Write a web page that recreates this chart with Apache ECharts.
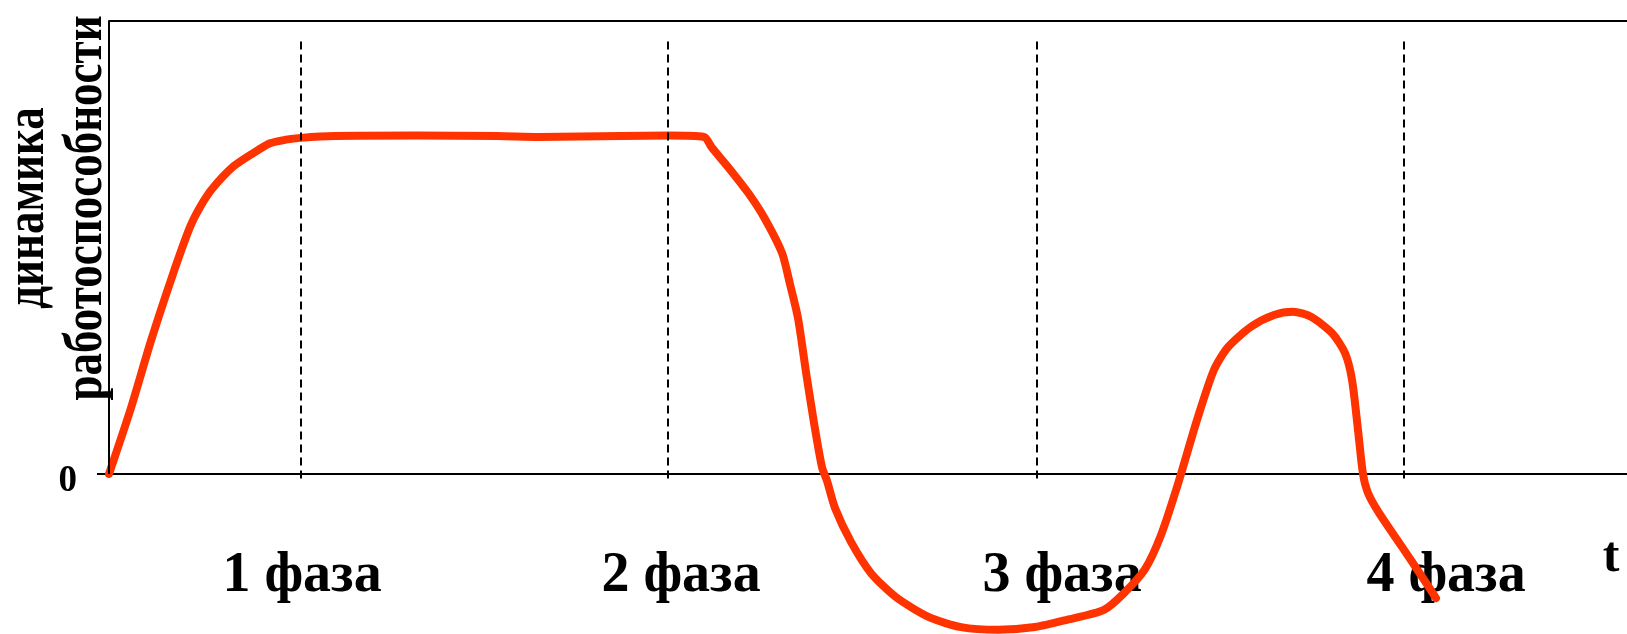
<!DOCTYPE html>
<html>
<head>
<meta charset="utf-8">
<script src="https://cdn.jsdelivr.net/npm/echarts@6/dist/echarts.min.js"></script>
<style>
    html, body { margin: 0; padding: 0; background: #fff; }
    #chart { width: 1627px; height: 634px; }
</style>
</head>
<body>
<div id="chart"></div>
<script>
    // curve: t (time units), y (performance, 0 = baseline)
    const curveT = [0, 2.2, 4.2, 6.3, 8.1, 9.1, 10.3, 12.4, 14.4, 16.1, 17.7, 19.2, 22.6, 30.8, 38.9, 43.0, 51.2, 56.0, 59.5,
        60.3, 62.0, 64.0, 65.6, 67.3, 68.1, 68.9, 69.7, 70.5, 71.3, 71.8, 72.6, 74.2, 76.2, 78.7, 82.0, 85.2, 88.9,
        92.6, 95.8, 99.5, 101.5, 103.6, 105.2, 106.9, 108.8, 110.5, 111.9, 114.2, 116.5, 118.4, 120.2, 122.3,
        123.6, 124.3, 124.9, 125.4, 125.9, 127.0, 129.3, 131.3, 132.7]
    const curveY = [0, 14.6, 29.4, 43.5, 54.5, 58.9, 62.9, 67.8, 70.8, 73.0, 73.8, 74.2, 74.6, 74.7, 74.6, 74.4, 74.6, 74.7, 74.4,
        72.0, 67.5, 61.8, 56.3, 48.8, 41.9, 34.4, 22.5, 11.3, 1.5, -1.5, -7.5, -15.0, -21.9, -27.2, -31.6, -33.8, -34.4,
        -33.8, -32.2, -30.0, -26.3, -21.0, -13.5, -2.2, 11.9, 23.0, 28.0, 32.5, 35.1, 35.8, 34.7, 31.1,
        26.7, 20.8, 9.7, 0, -4.2, -8.6, -16.1, -22.7, -27.4]

    // phase boundaries (dashed lines) and phase captions
    const phaseBounds = [19.2, 55.9, 92.8, 129.5]
    const phaseLabelT = [19.3, 57.2, 95.3, 133.7]
    const phaseLabels = ['1 фаза', '2 фаза', '3 фаза', '4 фаза']
    const yTicks = [0]

    const tMax = 151.8
    const yMin = -35
    const yMax = 100
    const dashTop = 95.5
    const dashBottom = -2
    const serif = '"Liberation Serif", "Times New Roman", serif'

    const chart = echarts.init(document.getElementById('chart'))

    let curveData = curveT.map((t, i) => [t, curveY[i]])

    let boundLines = phaseBounds.map(t => [
        { coord: [t, dashTop] },
        { coord: [t, dashBottom] }
    ])

    let option = {
        animation: false,
        grid: {
            left: 109,
            right: 0,
            top: 21,
            bottom: 1.5,
            outerBoundsMode: 'none',
            containLabel: false
        },
        xAxis: [{
            type: 'value',
            min: 0,
            max: tMax,
            axisLine: {
                onZero: true,
                lineStyle: { color: '#000', width: 2 }
            },
            axisTick: { show: false },
            splitLine: { show: false },
            axisLabel: {
                customValues: phaseLabelT,
                // labels hang from the grid bottom, pull them back up
                margin: -84,
                color: '#000',
                fontFamily: serif,
                fontWeight: 'bold',
                fontSize: 56,
                formatter: v => {
                    let i = phaseLabelT.indexOf(v)
                    return i >= 0 ? phaseLabels[i] : ''
                }
            }
        }, {
            // top border of the plot
            type: 'value',
            position: 'top',
            min: 0,
            max: tMax,
            axisLine: {
                show: true,
                onZero: false,
                lineStyle: { color: '#000', width: 2 }
            },
            axisTick: { show: false },
            axisLabel: { show: false },
            splitLine: { show: false }
        }],
        yAxis: {
            type: 'value',
            min: yMin,
            max: yMax,
            axisLine: { show: false },
            splitLine: { show: false },
            axisTick: {
                show: true,
                customValues: yTicks,
                length: 12,
                lineStyle: { color: '#000', width: 2 }
            },
            axisLabel: {
                customValues: yTicks,
                margin: 32,
                formatter: v => '{z|' + v + '}',
                rich: {
                    z: {
                        color: '#000',
                        fontFamily: serif,
                        fontWeight: 'bold',
                        fontSize: 37,
                        padding: [15, 0, 0, 0]
                    }
                }
            }
        },
        graphic: [{
            type: 'text',
            x: 58,
            y: 208,
            rotation: Math.PI / 2,
            scaleY: 1.2,
            style: {
                text: 'динамика\nработоспособности',
                font: 'bold 45px ' + serif,
                lineHeight: 48,
                fill: '#000',
                align: 'center',
                verticalAlign: 'middle'
            }
        }, {
            type: 'text',
            x: 1611,
            y: 558,
            style: {
                text: 't',
                font: 'bold 50px ' + serif,
                fill: '#000',
                align: 'center',
                verticalAlign: 'middle'
            }
        }],
        series: [{
            name: 'динамика',
            type: 'line',
            data: curveData,
            smooth: 0.25,
            showSymbol: false,
            lineStyle: {
                color: '#FF3300',
                width: 8,
                cap: 'round',
                join: 'round'
            },
            markLine: {
                silent: true,
                symbol: ['none', 'none'],
                label: { show: false },
                lineStyle: {
                    color: '#000',
                    width: 2,
                    type: [8, 5]
                },
                data: boundLines.concat([
                    // left axis only runs over the positive half
                    [{ coord: [0, yMax], lineStyle: { type: 'solid' } }, { coord: [0, 0] }]
                ])
            }
        }]
    }

    chart.setOption(option)
    window.addEventListener('resize', () => chart.resize(), false)
</script>
</body>
</html>
